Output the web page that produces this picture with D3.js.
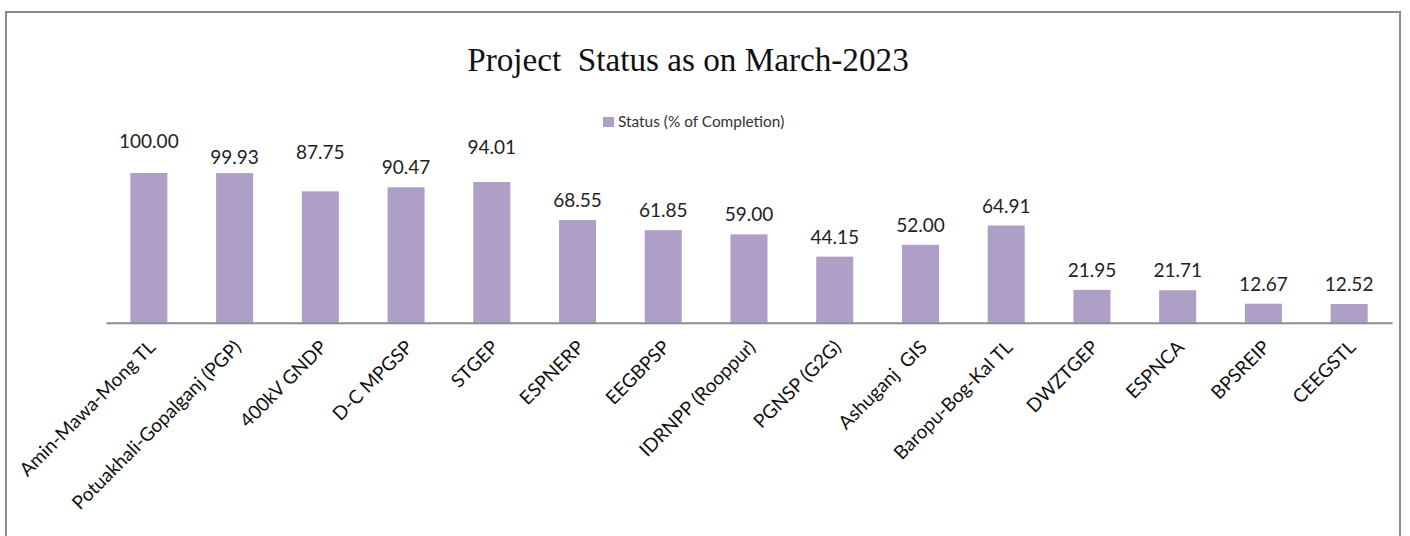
<!DOCTYPE html>
<html>
<head>
<meta charset="utf-8">
<script src="https://cdn.jsdelivr.net/npm/d3@7"></script>
<style>
    body { margin: 0; background: #fff; }
    svg { display: block; }
</style>
</head>
<body>
<svg id="chart" width="1410" height="536"></svg>
<script>
// project names, as on the x axis
var projects = ["Amin-Mawa-Mong TL", "Potuakhali-Gopalganj (PGP)", "400kV GNDP", "D-C MPGSP",
    "STGEP", "ESPNERP", "EEGBPSP", "IDRNPP (Rooppur)", "PGNSP (G2G)", "Ashuganj  GIS",
    "Baropu-Bog-Kal TL", "DWZTGEP", "ESPNCA", "BPSREIP", "CEEGSTL"];
// status (% of completion)
var completion = [100.00, 99.93, 87.75, 90.47, 94.01, 68.55, 61.85, 59.00, 44.15, 52.00,
    64.91, 21.95, 21.71, 12.67, 12.52];
var seriesName = "Status (% of Completion)";
var chartTitle = "Project\u00a0 Status as on March-2023";

// the original moved a few value labels by hand
var labelLift = [12, -4, 19, 0, 15, 0, 0, 0, 0, 0, 0, 0, 0, 0, 0];

var barColor = "#ae9fc7";
var svg = d3.select("#chart");

// outer frame (bottom edge sits below the page)
svg.append("rect")
    .attr("x", 6).attr("y", 12)
    .attr("width", 1394).attr("height", 540)
    .attr("fill", "none")
    .attr("stroke", "#8c8c8c")
    .attr("stroke-width", 2);

var x = d3.scaleBand()
    .domain(projects)
    .range([106, 1392])
    .paddingInner(0.568)
    .paddingOuter(0.284);

var y = d3.scaleLinear()
    .domain([0, 100])
    .range([322.7, 173]);

var rows = projects.map(function(p, i) {
    return {name: p, value: completion[i], lift: labelLift[i]};
});

svg.append("text")
    .attr("x", 688).attr("y", 71)
    .attr("text-anchor", "middle")
    .attr("font-family", "'Liberation Serif', 'Times New Roman', serif")
    .attr("font-size", "33.2px")
    .attr("fill", "#111")
    .text(chartTitle);

// legend
var legend = svg.append("g").attr("transform", "translate(603,117)");
legend.append("rect")
    .attr("width", 11).attr("height", 10)
    .attr("fill", barColor);
legend.append("text")
    .attr("x", 15).attr("y", 10)
    .attr("font-family", "Lato, 'Open Sans', sans-serif")
    .attr("font-size", "15.4px")
    .attr("fill", "#333")
    .text(seriesName);

svg.selectAll("rect.bar")
    .data(rows)
    .enter().append("rect")
    .attr("class", "bar")
    .attr("x", function(d) { return x(d.name); })
    .attr("y", function(d) { return y(d.value); })
    .attr("width", x.bandwidth())
    .attr("height", function(d) { return y(0) - y(d.value); })
    .attr("fill", barColor);

svg.selectAll("text.value")
    .data(rows)
    .enter().append("text")
    .attr("class", "value")
    .attr("x", function(d) { return x(d.name) + x.bandwidth() / 2; })
    .attr("y", function(d) { return y(d.value) - 13 - d.lift; })
    .attr("text-anchor", "middle")
    .attr("font-family", "Lato, 'Open Sans', sans-serif")
    .attr("font-size", "19px")
    .attr("fill", "#222")
    .text(function(d) { return d.value.toFixed(2); });

var xAxis = svg.append("g")
    .attr("class", "xaxis")
    .attr("transform", "translate(0," + y(0) + ")")
    .call(d3.axisBottom(x).tickSize(0).tickSizeOuter(0));

xAxis.select(".domain")
    .attr("stroke", "#8c8c8c")
    .attr("stroke-width", 2);

xAxis.selectAll(".tick text")
    .attr("x", 0).attr("y", 0)
    .attr("dy", "0.35em")
    .attr("transform", "translate(3,21) rotate(-45)")
    .attr("text-anchor", "end")
    .attr("font-family", "Lato, 'Open Sans', sans-serif")
    .attr("font-size", "19px")
    .attr("fill", "#111")
    .style("white-space", "pre");
</script>
</body>
</html>
